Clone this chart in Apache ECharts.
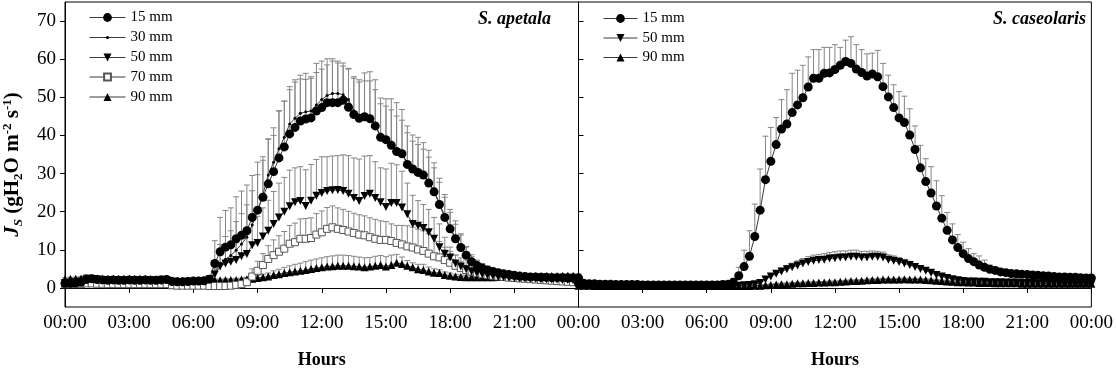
<!DOCTYPE html>
<html><head><meta charset="utf-8">
<script src="https://cdn.jsdelivr.net/npm/echarts@6/dist/echarts.min.js"></script>
<style>html,body{margin:0;padding:0;background:#fff}#c{width:1116px;height:374px}</style>
</head><body><div id="c"></div>
<script>
// 15-minute time steps, 00:00 .. 24:00 (97 points)
const tickLabels = ['00:00','03:00','06:00','09:00','12:00','15:00','18:00','21:00','00:00'];
const yTicks = [0,10,20,30,40,50,60,70];

// S. apetala (left panel)
const apetala15 = [1.2,1.2,1.3,1.5,2.2,2.4,2.2,2.1,2.0,2.1,2.0,2.0,2.1,2.0,2.0,2.1,2.0,2.0,2.1,2.2,1.7,1.6,1.6,1.7,1.8,1.8,1.9,2.3,
 6.4,9.5,10.7,11.3,12.9,13.8,15.0,18.5,20.4,23.8,27.3,30.5,34.1,37.0,40.4,42.1,43.8,44.3,44.6,46.4,47.3,48.6,48.6,48.6,49.2,47.4,45.5,44.5,44.9,44.4,42.5,39.5,
 38.9,37.4,35.8,35.2,32.4,31.2,30.3,29.6,27.5,25.2,21.9,18.5,15.5,12.9,10.6,8.6,6.9,
 5.9,5.2,4.7,4.3,4.0,3.7,3.5,3.3,3.1,3.0,2.9,2.9,2.8,2.8,2.7,2.7,2.7,2.6,2.6,2.6];
const apetala15sd = [0.5,0.5,0.5,0.6,1.3,0.9,0.6,0.5,0.5,0.5,0.5,0.5,0.5,0.5,0.5,0.5,0.5,0.6,1.0,0.6,0.4,0.4,0.4,0.4,0.4,0.4,0.4,0.8,
 6,9,9.6,9.7,11,11.6,12,11,12.6,10.6,11.7,9.5,12.3,12,12.4,12.5,12,12,10.4,12.5,12.2,11.5,11.5,10.9,9.8,10.2,9.9,10.1,11.5,12.3,12.1,10.3,
 10.7,12.2,12.8,11.6,10.1,8.9,9.2,8.5,8.6,7.6,6.9,6.0,5.1,4.7,3.6,2.1,1.3,
 1.2,1.0,0.9,0.8,0.7,0.6,0.6,0.5,0.5,0.5,0.5,0.4,0.4,0.4,0.4,0.4,0.4,0.4,0.4,0.4];
const apetala30 = [1.5,1.5,1.6,1.8,2.3,2.4,2.3,2.2,2.1,2.1,2.1,2.0,2.1,2.1,2.0,2.0,2.1,2.0,2.0,2.2,1.8,1.7,1.7,1.7,1.8,1.9,2.0,2.2,
 4.0,6.4,7.5,8.5,9.9,11.5,13.3,16.5,20.2,24.5,29.6,33.0,36.5,39.5,43.0,44.5,45.8,46.2,46.4,48.0,49.4,50.5,51.0,51.0,50.7,49.4,46.5,45.0,45.3,44.8,43.0,
 39.8,39.2,37.7,36.1,35.5,32.7,31.5,30.6,29.9,27.8,25.5,22.2,18.8,15.8,13.2,10.9,8.9,7.2,6.1,5.4,
 4.8,4.4,4.1,3.8,3.5,3.3,3.1,3.0,2.9,2.8,2.8,2.7,2.7,2.6,2.6,2.5,2.5,2.5];
const apetala30sd = [0.4,0.4,0.5,0.6,1.0,0.9,0.6,0.5,0.5,0.5,0.5,0.5,0.5,0.5,0.5,0.5,0.5,0.6,0.8,0.6,0.4,0.4,0.4,0.4,0.4,0.4,0.5,0.8,
 3,5,6,6.5,7.5,8,8.5,9,9.5,9,9.5,9,10,9.5,9,9.5,9,8.5,9,8.5,8,8,8.5,8,7.5,8,8.5,9,9,9.5,9,
 8.5,8.5,9,9,8.5,8,7,7,6.5,6.5,6,5.5,5,4,3.5,3,2,1.5,1.2,1.0,
 0.9,0.8,0.7,0.6,0.6,0.5,0.5,0.5,0.5,0.4,0.4,0.4,0.4,0.4,0.4,0.4,0.4,0.4];
const apetala50 = [1.3,1.3,1.5,1.7,2.2,2.3,2.2,2.1,2.0,2.0,2.0,1.9,2.0,2.0,1.9,1.9,2.0,1.9,1.9,2.0,1.6,1.5,1.5,1.6,1.6,1.7,
 1.8,2.2,3.5,
 5.6,6.4,6.9,7.3,8.3,8.9,11.2,11.8,13.5,15.0,16.8,18.5,20.0,21.4,22.5,22.8,21.5,22.9,24.2,24.9,25.4,25.6,25.7,25.4,24.7,23.6,22.8,24.1,24.7,23.6,
 22.5,21.2,22.3,22.3,21.1,19.3,16.8,16.3,15.7,14.6,12.9,10.7,9.0,8.0,6.4,5.6,4.9,4.3,
 3.9,3.6,3.3,3.1,2.9,2.8,2.7,2.6,2.5,2.5,2.4,2.4,2.3,2.3,2.2,2.2,2.1,2.1,2.0,2.0];
const apetala50sd = [0.4,0.4,0.4,0.5,0.8,0.7,0.5,0.5,0.4,0.4,0.4,0.4,0.4,0.4,0.4,0.4,0.4,0.5,0.6,0.5,0.3,0.3,0.3,0.3,0.3,0.3,0.4,0.5,1.5,
 3,3.5,4,4.5,5,5.5,6.5,7,7.5,8,8.5,9,9,9.5,9,9,9.5,9.5,9.5,9.5,9,9,9,9.5,10,10.5,11,10.5,10,9.5,
 9,10,10.4,10,9.5,8.2,7.5,6.6,6.2,6,5.6,6.1,4.3,2.7,2.2,1.3,1.0,0.9,
 0.8,0.7,0.6,0.6,0.5,0.5,0.5,0.4,0.4,0.4,0.4,0.4,0.4,0.4,0.4,0.4,0.4,0.4,0.4,0.4];
const apetala70 = [1.0,1.0,1.0,1.0,1.2,1.2,1.1,1.1,1.0,1.0,1.0,1.0,1.0,1.0,1.0,1.0,1.0,1.0,1.0,1.0,
 0.7,0.6,0.6,0.6,0.6,0.6,0.6,0.5,0.5,0.5,0.5,0.6,0.8,1.0,
 1.5,3.0,4.5,6.0,7.6,8.6,9.5,10.3,11.6,12.0,12.9,12.9,13.1,14.0,14.6,15.5,15.9,15.5,15.2,14.8,14.4,14.0,13.8,13.3,12.9,12.6,
 12.6,12.3,11.8,11.4,10.9,10.6,10.1,9.7,9.0,8.3,8.0,7.3,6.6,5.8,5.2,4.7,4.3,3.9,
 3.6,3.4,3.2,3.0,2.9,2.7,2.6,2.5,2.4,2.3,2.2,2.1,2.0,1.9,1.8,1.7,1.6,1.5,1.4];
const apetala70sd = [0.3,0.3,0.3,0.3,0.6,0.5,0.4,0.4,0.3,0.3,0.3,0.3,0.3,0.3,0.3,0.3,0.3,0.3,0.3,0.3,
 0.2,0.2,0.2,0.2,0.2,0.2,0.2,0.2,0.2,0.2,0.2,0.3,0.5,0.8,
 1.2,2,2.5,3,3.5,4,4.2,4.5,4.8,5,5.2,5.3,5.3,5.5,5.6,5.6,5.6,5.5,5.4,5.3,5.2,5.2,5.1,5.1,5.1,5.0,
 4.8,4.5,4.6,5.0,5.4,5.3,5.3,5.3,5.2,5.0,4.2,3.4,3.0,2.8,2.7,2.6,1.8,0.9,
 0.8,0.7,0.6,0.5,0.5,0.5,0.4,0.4,0.4,0.4,0.4,0.3,0.3,0.3,0.3,0.3,0.3,0.3,0.3];
const apetala90 = [2.3,2.4,2.4,2.5,2.6,2.6,2.5,2.5,2.4,2.4,2.4,2.4,2.4,2.4,2.4,2.4,2.3,2.3,2.3,2.3,2.0,1.9,1.9,1.9,1.9,2.0,2.0,2.0,2.0,2.0,2.1,2.1,2.1,2.2,
 2.3,2.4,2.6,2.8,3.0,3.4,3.6,3.9,4.1,4.3,4.5,4.7,5.0,5.2,5.4,5.6,5.7,5.8,5.8,5.8,5.7,5.6,5.4,5.6,5.8,6.0,
 5.6,6.0,6.6,6.3,5.8,5.4,4.9,4.7,4.3,4.0,3.9,3.4,3.2,3.0,2.9,2.8,2.8,2.8,
 2.8,2.8,2.8,2.9,2.9,2.9,3.0,3.0,3.0,3.0,3.1,3.1,3.1,3.1,3.1,3.2,3.2,3.2,3.2];
const apetala90sd = [0.4,0.4,0.4,0.5,0.8,0.6,0.4,0.4,0.4,0.4,0.4,0.4,0.4,0.4,0.4,0.4,0.4,0.5,0.8,0.5,0.3,0.3,0.3,0.3,0.3,0.3,0.3,0.3,0.3,0.3,0.3,0.3,0.4,0.4,
 0.5,0.6,0.7,0.8,0.9,1.1,1.3,1.5,1.7,1.9,2.0,2.2,2.3,2.4,2.5,2.6,2.7,2.8,2.8,2.7,2.6,2.5,2.5,2.4,2.5,2.5,
 2.6,2.6,2.2,1.8,1.4,1.2,1.3,1.5,1.2,1.0,0.9,0.8,0.7,0.6,0.5,0.5,0.5,0.5,
 0.5,0.5,0.5,0.5,0.5,0.5,0.5,0.5,0.5,0.5,0.5,0.5,0.5,0.5,0.5,0.5,0.5,0.5,0.5];

// S. caseolaris (right panel)
const caseo15 = [1.2,1.2,1.1,1.1,1.0,1.0,1.0,0.9,0.9,0.9,0.9,0.9,0.8,0.8,0.8,0.8,0.8,0.8,0.8,0.8,0.8,0.8,0.8,0.8,0.8,0.8,0.8,0.9,
 1.0,1.5,3.2,5.6,8.3,13.5,20.4,28.4,33.2,37.6,41.7,43.0,46.0,48.0,49.9,52.7,55.0,55.0,56.3,56.4,57.3,58.4,59.4,58.9,57.4,56.5,55.6,56.1,55.4,52.8,50.1,47.3,44.6,43.4,40.1,
 36.3,31.5,27.9,24.9,21.5,18.3,15.1,12.6,10.6,9.0,7.7,6.9,6.0,5.4,4.9,4.6,4.2,
 4.0,3.8,3.7,3.6,3.5,3.4,3.3,3.2,3.1,3.0,2.9,2.9,2.8,2.8,2.7,2.6,2.6];
const caseo15sd = [0.4,0.3,0.3,0.3,0.3,0.3,0.3,0.3,0.3,0.3,0.3,0.3,0.3,0.3,0.3,0.3,0.3,0.3,0.3,0.3,0.3,0.3,0.3,0.3,0.3,0.3,0.3,0.3,
 0.5,1.0,2.2,4.3,6.7,8.5,10.8,11.4,8.9,7.1,7.7,9.0,10.3,9.1,8.5,7.9,7.5,7.5,6.8,6.7,6.5,4.7,5.6,7.0,6.4,6.0,5.8,5.5,6.9,6.1,5.7,6.0,6.9,6.9,6.9,
 6.2,5.9,6.0,6.9,6.6,5.9,4.7,4.2,3.4,3.0,2.6,2.1,2.4,1.9,1.1,0.8,0.7,
 0.6,0.6,0.5,0.5,0.5,0.4,0.4,0.4,0.4,0.4,0.3,0.3,0.3,0.3,0.3,0.3,0.3];
const caseo50 = [0.8,0.8,0.8,0.7,0.7,0.7,0.7,0.7,0.7,0.7,0.7,0.7,0.6,0.6,0.6,0.6,0.6,0.6,0.6,0.6,0.6,0.6,0.6,0.6,0.6,0.6,0.6,0.6,0.6,0.6,0.6,0.7,0.8,1.0,
 1.3,2.2,3.0,3.7,4.3,4.9,5.4,5.9,6.4,6.8,7.1,7.3,7.4,7.7,7.8,8.0,8.0,8.2,8.2,8.0,8.0,8.2,8.2,8.0,
 7.4,7.1,6.8,6.4,6.0,5.5,5.0,4.5,4.0,3.4,3.0,2.6,2.3,2.0,1.8,
 1.7,1.7,1.6,1.6,1.5,1.5,1.5,1.4,1.4,1.4,1.3,1.3,1.3,1.2,1.2,1.2,1.1,1.1,1.1,1.0,1.0,1.0,0.9,0.9];
const caseo50sd = [0.2,0.2,0.2,0.2,0.2,0.2,0.2,0.2,0.2,0.2,0.2,0.2,0.2,0.2,0.2,0.2,0.2,0.2,0.2,0.2,0.2,0.2,0.2,0.2,0.2,0.2,0.2,0.2,0.2,0.2,0.2,0.2,0.2,0.3,
 0.3,0.5,0.7,0.8,0.9,1.0,1.1,1.2,1.3,1.4,1.5,1.5,1.6,1.6,1.7,1.7,1.7,1.7,1.7,1.6,1.6,1.5,1.4,1.4,
 1.3,1.3,1.2,1.1,1.0,0.9,0.8,0.7,0.6,0.5,0.5,0.4,0.4,0.3,0.3,
 0.2,0.2,0.2,0.2,0.2,0.2,0.2,0.2,0.2,0.2,0.2,0.2,0.2,0.2,0.2,0.2,0.2,0.2,0.2,0.2,0.2,0.2,0.2,0.2];
const caseo90 = [0.6,0.6,0.6,0.5,0.5,0.5,0.5,0.5,0.5,0.5,0.5,0.5,0.5,0.5,0.5,0.5,0.5,0.5,0.5,0.5,0.5,0.5,0.5,0.5,0.5,0.5,0.5,0.5,0.5,0.5,0.5,0.5,0.5,0.6,
 0.6,0.7,0.8,0.9,1.0,1.0,1.1,1.2,1.2,1.3,1.3,1.4,1.4,1.5,1.5,1.6,1.7,1.8,1.8,1.9,2.0,2.1,2.1,2.2,2.2,2.2,2.2,2.3,
 2.2,2.2,2.2,2.1,2.0,1.9,1.8,1.7,1.6,1.5,1.5,1.4,1.4,1.3,1.3,1.3,1.2,1.2,1.2,1.2,1.2,1.1,1.1,1.1,1.1,1.1,1.1,1.1,1.1,1.1,1.1,1.1,1.1,1.1,1.1];
const caseo90sd = [0.1,0.1,0.1,0.1,0.1,0.1,0.1,0.1,0.1,0.1,0.1,0.1,0.1,0.1,0.1,0.1,0.1,0.1,0.1,0.1,0.1,0.1,0.1,0.1,0.1,0.1,0.1,0.1,0.1,0.1,0.1,0.1,0.1,0.1,
 0.2,0.2,0.2,0.3,0.3,0.3,0.3,0.3,0.3,0.3,0.3,0.3,0.3,0.3,0.3,0.3,0.3,0.3,0.3,0.3,0.3,0.3,0.3,0.3,0.3,0.3,0.3,0.3,0.3,0.3,0.3,0.3,0.3,0.3,0.3,0.3,0.3,0.3,0.3,
 0.2,0.2,0.2,0.2,0.2,0.2,0.2,0.2,0.2,0.2,0.2,0.2,0.2,0.2,0.2,0.2,0.2,0.2,0.2,0.2,0.2,0.2,0.2,0.2];

const categories = [];
for (let i = 0; i < apetala15.length; i++) {
  const m = i * 15, h = Math.floor(m / 60) % 24, mm = m % 60;
  categories.push(String(h).padStart(2, '0') + ':' + String(mm).padStart(2, '0'));
}

const FONT = 'Liberation Serif';
const BAR = '#858585';
const LINE = '#3a3a3a';

function errRender(params, api) {
  const x = api.value(0), v = api.value(1), sd = api.value(2);
  const p0 = api.coord([x, v]);
  const p1 = api.coord([x, v + sd]);
  return {
    type: 'group',
    children: [
      {type: 'line', shape: {x1: p0[0], y1: p0[1], x2: p1[0], y2: p1[1]}, style: {stroke: BAR, lineWidth: 1}},
      {type: 'line', shape: {x1: p1[0] - 3, y1: p1[1], x2: p1[0] + 3, y2: p1[1]}, style: {stroke: BAR, lineWidth: 1}}
    ]
  };
}
function errSeries(name, vals, sds, gi) {
  return {
    type: 'custom', name: name, xAxisIndex: gi, yAxisIndex: gi, z: 1, silent: true,
    renderItem: errRender, encode: {x: 0, y: 1},
    data: vals.map((v, i) => [i, v, sds[i]])
  };
}
function lineSeries(name, vals, gi, sym) {
  return Object.assign({
    type: 'line', name: name, xAxisIndex: gi, yAxisIndex: gi, z: 3,
    data: vals, showSymbol: true, showAllSymbol: true, animation: false,
    lineStyle: {color: LINE, width: 1},
    itemStyle: {color: '#000'}
  }, sym);
}
const symCircle = {symbol: 'circle', symbolSize: 9};
const symDot = {symbol: 'circle', symbolSize: 3};
const symDown = {symbol: 'triangle', symbolSize: 8, symbolRotate: 180};
const symSquare = {symbol: 'rect', symbolSize: 7, itemStyle: {color: '#fff', borderColor: '#555', borderWidth: 1}};
const symUp = {symbol: 'triangle', symbolSize: 8};

function xAxis(gi) {
  return {
    type: 'category', gridIndex: gi, data: categories, boundaryGap: false,
    name: 'Hours', nameLocation: 'middle', nameGap: 44,
    nameTextStyle: {fontFamily: FONT, fontWeight: 'bold', fontSize: 18, color: '#000'},
    axisLine: {lineStyle: {color: '#000', width: 1}},
    axisTick: {show: true, length: 5, interval: (i) => i % 12 === 0, lineStyle: {color: '#000'}},
    axisLabel: {
      interval: (i) => i % 12 === 0 && !(gi === 1 && i === 0),
      formatter: (v, i) => tickLabels[Math.round(i / 12)],
      fontFamily: FONT, fontSize: 19, color: '#000', margin: 7
    },
    splitLine: {show: false}
  };
}
function yAxis(gi) {
  const o = {
    type: 'value', gridIndex: gi, min: -5, max: 75,
    axisLine: {show: true, lineStyle: {color: '#000', width: 1}},
    axisTick: {show: true, length: 5, inside: gi === 1, customValues: yTicks, lineStyle: {color: '#000'}},
    axisLabel: {show: gi === 0, customValues: yTicks, fontFamily: FONT, fontSize: 19, color: '#000', margin: 9},
    splitLine: {show: false}
  };
  if (gi === 0) {
    o.name = '{i|J}{sub|S}{b| (gH}{sub2|2}{b|O m}{sup|-2}{b| s}{sup|-1}{b|)}';
    o.nameLocation = 'middle';
    o.nameRotate = 90;
    o.nameGap = 40;
    const base = {fontFamily: FONT, fontWeight: 'bold', color: '#000', lineHeight: 24};
    o.nameTextStyle = {
      fontFamily: FONT, fontWeight: 'bold', fontSize: 21, color: '#000',
      padding: [0, 20, 0, 0],
      rich: {
        i: Object.assign({}, base, {fontStyle: 'italic', fontSize: 21}),
        b: Object.assign({}, base, {fontSize: 21}),
        sub: Object.assign({}, base, {fontStyle: 'italic', fontSize: 13, verticalAlign: 'bottom', lineHeight: 18}),
        sub2: Object.assign({}, base, {fontSize: 13, verticalAlign: 'bottom', lineHeight: 18}),
        sup: Object.assign({}, base, {fontSize: 13, verticalAlign: 'top', lineHeight: 18})
      }
    };
  }
  return o;
}

const legendText = {fontFamily: FONT, fontSize: 15, color: '#000', lineHeight: 16};
function legendItem(name, left, centerY, w, h, label) {
  return {
    data: [name], orient: 'vertical', left: left, top: centerY - 8, padding: 0,
    itemWidth: w, itemHeight: h, itemGap: 8, textStyle: legendText, selectedMode: false,
    lineStyle: {color: LINE, width: 1},
    formatter: () => label
  };
}
const option = {
  animation: false,
  backgroundColor: '#fff',
  grid: [
    {left: 64, right: 537.5, top: 2, bottom: 64, show: true, borderColor: '#000', borderWidth: 1, backgroundColor: 'transparent'},
    {left: 578.5, right: 24, top: 2, bottom: 64, show: true, borderColor: '#000', borderWidth: 1, backgroundColor: 'transparent'}
  ],
  xAxis: [xAxis(0), xAxis(1)],
  yAxis: [yAxis(0), yAxis(1)],
  legend: [
    legendItem('15 mm', 89, 17.5, 36, 11, '15 mm'),
    legendItem('30 mm', 89, 37.5, 36, 4, '30 mm'),
    legendItem('50 mm', 89, 57.5, 36, 10, '50 mm'),
    legendItem('70 mm', 89, 77, 36, 8.5, '70 mm'),
    legendItem('90 mm', 89, 97, 36, 10, '90 mm'),
    legendItem('15 mm ', 603, 18.5, 34, 11, '15 mm'),
    legendItem('50 mm ', 603, 38, 34, 10, '50 mm'),
    legendItem('90 mm ', 603, 57.5, 34, 10, '90 mm')
  ],
  graphic: [
    {type: 'text', right: 1116 - 551, top: 10, style: {text: 'S. apetala', fontFamily: FONT, fontSize: 18, fontWeight: 'bold', fontStyle: 'italic', fill: '#000'}},
    {type: 'text', right: 1116 - 1086, top: 10, style: {text: 'S. caseolaris', fontFamily: FONT, fontSize: 18, fontWeight: 'bold', fontStyle: 'italic', fill: '#000'}}
  ],
  series: [
    errSeries('e15', apetala15, apetala15sd, 0),
    errSeries('e30', apetala30, apetala30sd, 0),
    errSeries('e50', apetala50, apetala50sd, 0),
    errSeries('e70', apetala70, apetala70sd, 0),
    errSeries('e90', apetala90, apetala90sd, 0),
    errSeries('f15', caseo15, caseo15sd, 1),
    errSeries('f50', caseo50, caseo50sd, 1),
    errSeries('f90', caseo90, caseo90sd, 1),
    lineSeries('90 mm', apetala90, 0, symUp),
    lineSeries('70 mm', apetala70, 0, symSquare),
    lineSeries('50 mm', apetala50, 0, symDown),
    lineSeries('30 mm', apetala30, 0, symDot),
    lineSeries('15 mm', apetala15, 0, symCircle),
    lineSeries('90 mm ', caseo90, 1, symUp),
    lineSeries('50 mm ', caseo50, 1, symDown),
    lineSeries('15 mm ', caseo15, 1, symCircle)
  ]
};
const chart = echarts.init(document.getElementById('c'), null, {renderer: 'canvas'});
chart.setOption(option);
</script>
</body></html>
